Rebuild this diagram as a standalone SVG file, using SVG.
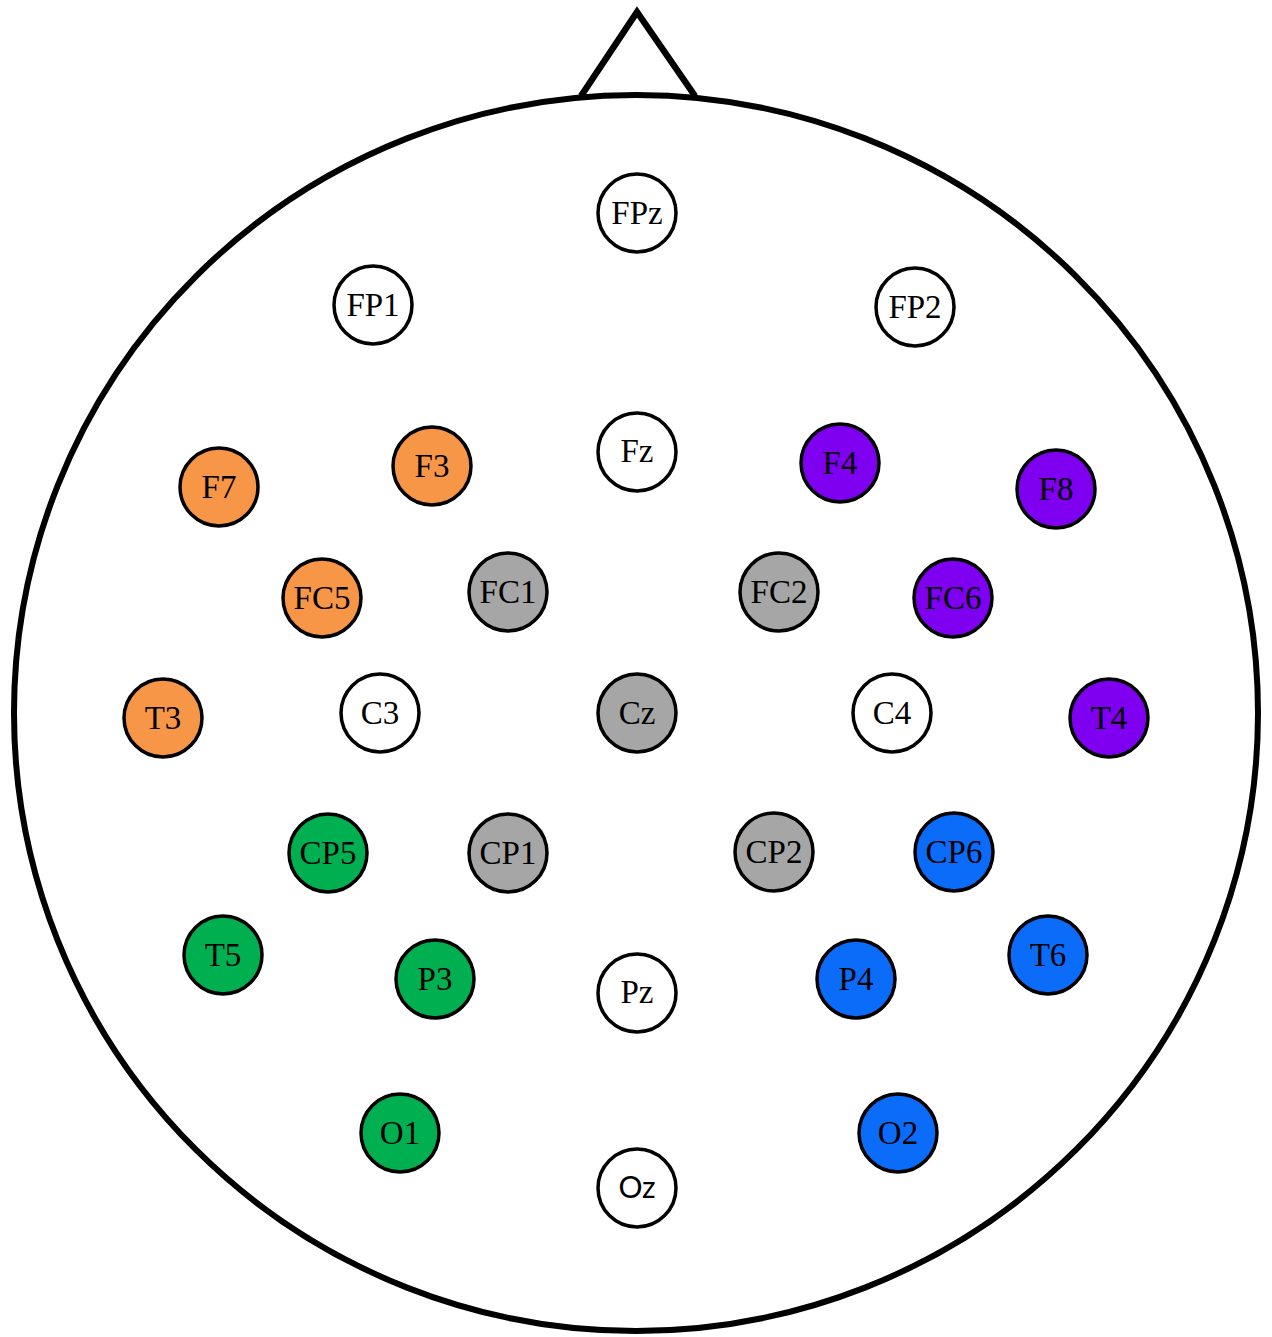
<svg xmlns="http://www.w3.org/2000/svg" width="1272" height="1337" viewBox="0 0 1272 1337">
<style>
.e circle{stroke:#000;stroke-width:3.5}
.e text{font-family:"Liberation Serif","Times New Roman",serif;font-size:33px;text-anchor:middle;fill:#000}
.w circle{fill:#fff}
.o circle{fill:#F79646}
.p circle{fill:#7F00F0}
.g circle{fill:#A6A6A6}
.gr circle{fill:#00B050}
.b circle{fill:#0A6CF8}
.sans text{font-family:Lato,"Open Sans","Liberation Sans",sans-serif;font-size:30px}
</style>
<rect width="1272" height="1337" fill="#fff"/>
<g id="head">
<polyline points="581,96 637,12 695,96" fill="none" stroke="#000" stroke-width="6.5" stroke-linejoin="miter"/>
<ellipse cx="636" cy="713" rx="622" ry="618" fill="#fff" stroke="#000" stroke-width="6"/>
</g>
<g id="connectors"></g>
<g id="FPz" class="e w"><circle cx="637" cy="213" r="39"/><text x="637" y="224">FPz</text></g>
<g id="FP1" class="e w"><circle cx="373" cy="305" r="39"/><text x="373" y="316">FP1</text></g>
<g id="FP2" class="e w"><circle cx="915" cy="307" r="39"/><text x="915" y="318">FP2</text></g>
<g id="Fz" class="e w"><circle cx="637" cy="452" r="39"/><text x="637" y="462">Fz</text></g>
<g id="F7" class="e o"><circle cx="219" cy="487" r="39"/><text x="219" y="498">F7</text></g>
<g id="F3" class="e o"><circle cx="432" cy="466" r="39"/><text x="432" y="477">F3</text></g>
<g id="F4" class="e p"><circle cx="840" cy="463" r="39"/><text x="840" y="474">F4</text></g>
<g id="F8" class="e p"><circle cx="1056" cy="489" r="39"/><text x="1056" y="500">F8</text></g>
<g id="FC5" class="e o"><circle cx="322" cy="598" r="39"/><text x="322" y="609">FC5</text></g>
<g id="FC1" class="e g"><circle cx="508" cy="592" r="39"/><text x="508" y="603">FC1</text></g>
<g id="FC2" class="e g"><circle cx="779" cy="592" r="39"/><text x="779" y="603">FC2</text></g>
<g id="FC6" class="e p"><circle cx="953" cy="598" r="39"/><text x="953" y="609">FC6</text></g>
<g id="T3" class="e o"><circle cx="163" cy="718" r="39"/><text x="163" y="729">T3</text></g>
<g id="C3" class="e w"><circle cx="380" cy="713" r="39"/><text x="380" y="724">C3</text></g>
<g id="Cz" class="e g"><circle cx="637" cy="713" r="39"/><text x="637" y="724">Cz</text></g>
<g id="C4" class="e w"><circle cx="892" cy="713" r="39"/><text x="892" y="724">C4</text></g>
<g id="T4" class="e p"><circle cx="1109" cy="718" r="39"/><text x="1109" y="729">T4</text></g>
<g id="CP5" class="e gr"><circle cx="328" cy="853" r="39"/><text x="328" y="864">CP5</text></g>
<g id="CP1" class="e g"><circle cx="508" cy="853" r="39"/><text x="508" y="864">CP1</text></g>
<g id="CP2" class="e g"><circle cx="774" cy="852" r="39"/><text x="774" y="863">CP2</text></g>
<g id="CP6" class="e b"><circle cx="954" cy="852" r="39"/><text x="954" y="863">CP6</text></g>
<g id="T5" class="e gr"><circle cx="223" cy="955" r="39"/><text x="223" y="966">T5</text></g>
<g id="P3" class="e gr"><circle cx="435" cy="979" r="39"/><text x="435" y="990">P3</text></g>
<g id="Pz" class="e w"><circle cx="637" cy="993" r="39"/><text x="637" y="1003">Pz</text></g>
<g id="P4" class="e b"><circle cx="856" cy="979" r="39"/><text x="856" y="990">P4</text></g>
<g id="T6" class="e b"><circle cx="1048" cy="955" r="39"/><text x="1048" y="966">T6</text></g>
<g id="O1" class="e gr"><circle cx="400" cy="1133" r="39"/><text x="400" y="1144">O1</text></g>
<g id="O2" class="e b"><circle cx="898" cy="1133" r="39"/><text x="898" y="1144">O2</text></g>
<g id="Oz" class="e w sans"><circle cx="637" cy="1188" r="39"/><text x="637" y="1198">Oz</text></g>
</svg>
